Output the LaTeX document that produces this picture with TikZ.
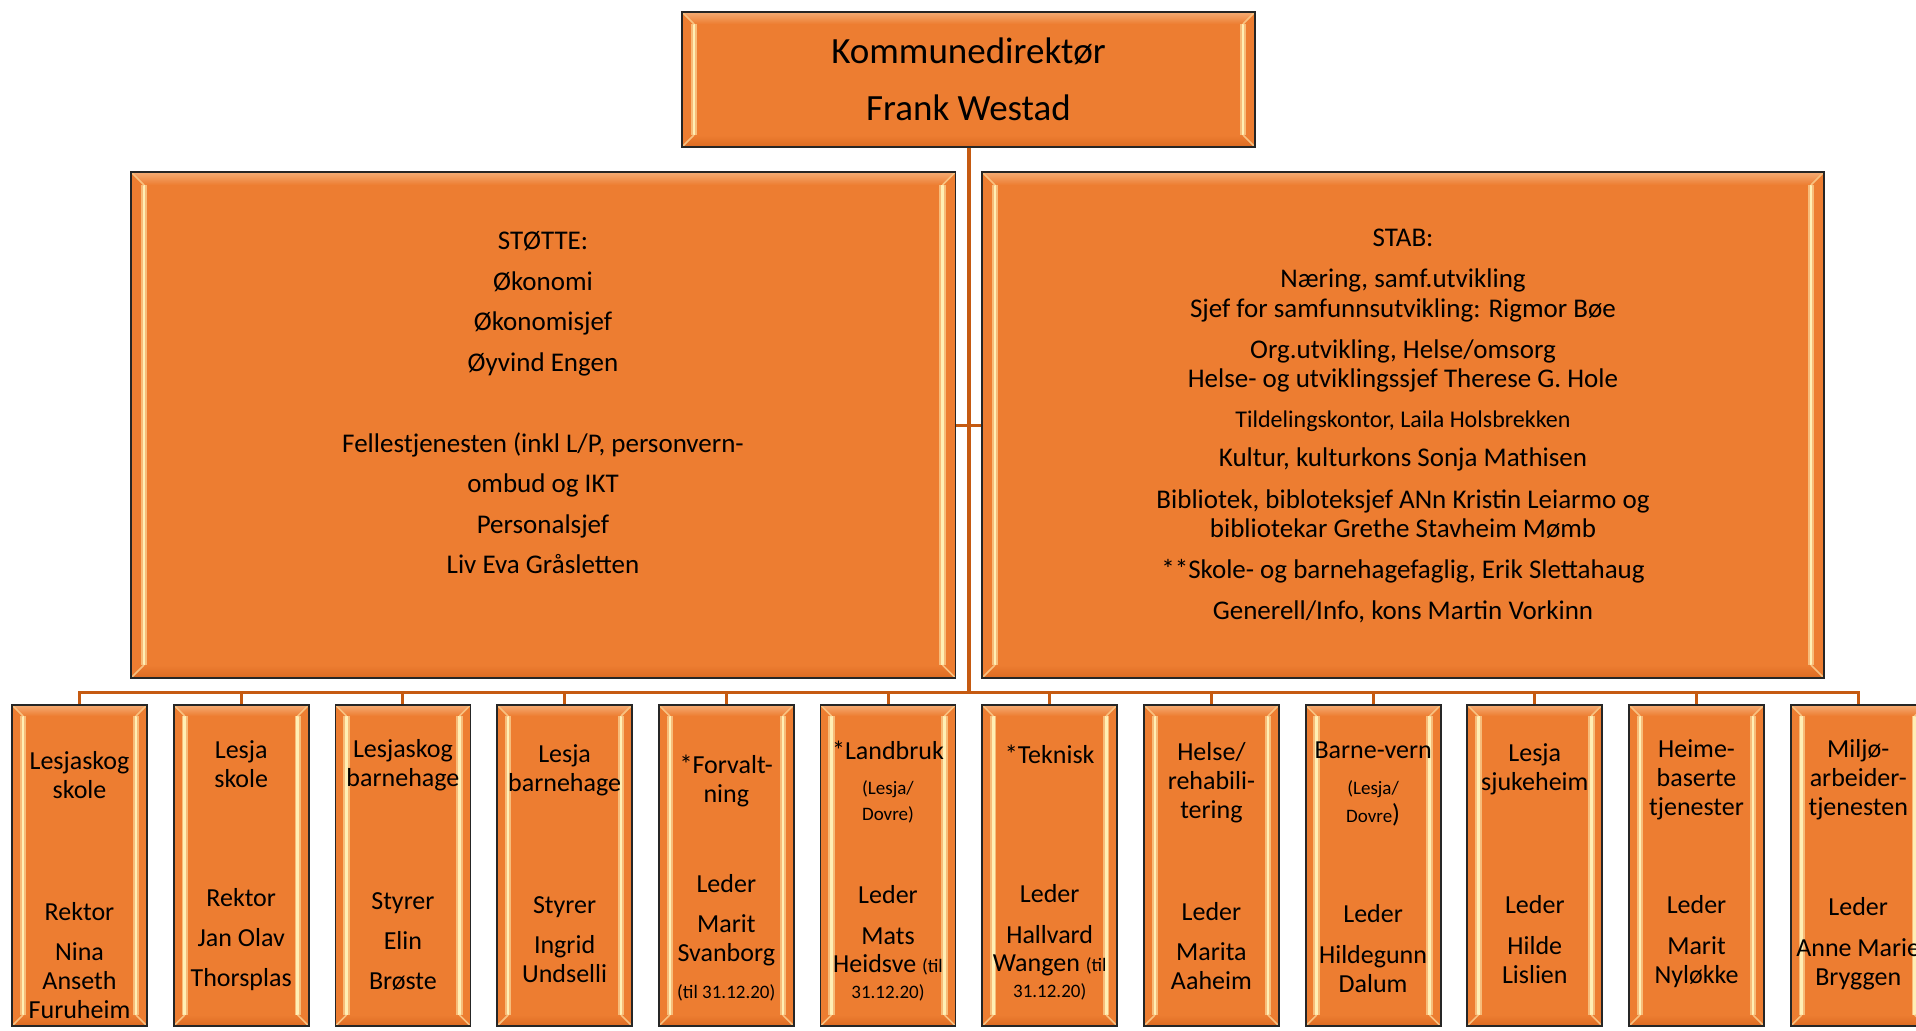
\documentclass[tikz,border=0pt]{standalone}
\usepackage{fontspec}
\setmainfont{Carlito}

\definecolor{boxorange}{HTML}{ED7D31}
\definecolor{linkorange}{HTML}{C55A11}
\definecolor{bevelhi}{HTML}{FFEFB5}
\definecolor{beveltop}{HTML}{F5AC74}
\definecolor{bevelbot}{HTML}{DC6B22}

\newcommand{\sm}[1]{{\fontsize{9.5}{11}\selectfont #1}}

\begin{document}
\begin{tikzpicture}[x=0.5pt, y=-0.5pt]
        \tikzset{
            bevel/.style={path picture={
                \coordinate (pnw) at (path picture bounding box.north west);
                \coordinate (pne) at (path picture bounding box.north east);
                \coordinate (psw) at (path picture bounding box.south west);
                \coordinate (pse) at (path picture bounding box.south east);
                \shade[top color=beveltop, bottom color=boxorange] (pnw) -- (pne)
                    -- ([xshift=-#1,yshift=-#1]pne) -- ([xshift=#1,yshift=-#1]pnw) -- cycle;
                \shade[top color=boxorange, bottom color=bevelbot] (psw) -- (pse)
                    -- ([xshift=-#1,yshift=#1]pse) -- ([xshift=#1,yshift=#1]psw) -- cycle;
                \draw[bevelhi!55!boxorange, line width=3.2pt]
                    ([xshift=#1,yshift=-#1]pnw) -- ([xshift=#1,yshift=#1]psw)
                    ([xshift=-#1,yshift=-#1]pne) -- ([xshift=-#1,yshift=#1]pse);
                \draw[bevelhi, line width=1.3pt]
                    ([xshift=#1,yshift=-#1]pnw) -- ([xshift=#1,yshift=#1]psw)
                    ([xshift=-#1,yshift=-#1]pne) -- ([xshift=-#1,yshift=#1]pse);
                \draw[bevelhi!60!boxorange, line width=0.8pt]
                    (pnw) -- ([xshift=#1,yshift=-#1]pnw)
                    (pne) -- ([xshift=-#1,yshift=-#1]pne)
                    (psw) -- ([xshift=#1,yshift=#1]psw)
                    (pse) -- ([xshift=-#1,yshift=#1]pse);
            }},
            box/.style={draw=black!85, line width=0.9pt, fill=boxorange, bevel=6pt, inner sep=0pt},
            unit/.style={box, bevel=5.5pt, minimum width=67.5pt, minimum height=160.5pt},
            head/.style={align=center, inner sep=0pt, font=\fontsize{13}{14.5}\selectfont},
            link/.style={draw=linkorange, line width=1.5pt},
            trunk/.style={link, line width=2pt}
        }

        \useasboundingbox (0,0) rectangle (1916,1030);
        \clip (0,0) rectangle (1916,1030);

        % Top - Kommunedirektor
        \node[box, minimum width=286.5pt, minimum height=67.5pt, align=center,
              font=\fontsize{18.5}{28.5}\selectfont] (dir) at (968.5,79.5)
              {Kommunedirektør\\Frank Westad};

        % Support and staff
        \node[box, bevel=6.5pt, minimum width=412.25pt, minimum height=253pt] (stotte) at (543.25,425) {};
        \node[align=center, inner sep=0pt, font=\fontsize{13.5}{20.25}\selectfont] (stotte-txt) at (543,403)
            {STØTTE:\\Økonomi\\Økonomisjef\\Øyvind Engen\\[20.25pt]
             Fellestjenesten (inkl L/P, personvern-\\ombud og IKT\\Personalsjef\\Liv Eva Gråsletten};

        \node[box, bevel=6.5pt, minimum width=421pt, minimum height=253pt] (stab) at (1403,425) {};
        \node[align=center, inner sep=0pt, font=\fontsize{13.5}{14.8}\selectfont] (stab-txt) at (1403,426)
            {STAB:\\[5.75pt]
             Næring, samf.utvikling\\Sjef for samfunnsutvikling: Rigmor Bøe\\[5.75pt]
             Org.utvikling, Helse/omsorg\\Helse- og utviklingssjef Therese G. Hole\\[5pt]
             {\fontsize{12}{13}\selectfont Tildelingskontor, Laila Holsbrekken}\\[5pt]
             Kultur, kulturkons Sonja Mathisen\\[5.75pt]
             Bibliotek, bibloteksjef ANn Kristin Leiarmo og\\bibliotekar Grethe Stavheim Mømb\\[5.75pt]
             **Skole- og barnehagefaglig, Erik Slettahaug\\[5.75pt]
             Generell/Info, kons Martin Vorkinn};

        % Unit 1 - Lesjaskog skole
        \node[unit] (unit1) at (79.5,865.5) {};
        \node[head] (head1) at (79.5,774.7) {Lesjaskog\\skole};
        \node[head] (lead1) at (79.5,961) {Rektor\\[5.5pt]Nina\\Anseth\\Furuheim};

        % Unit 2 - Lesja skole
        \node[unit] (unit2) at (241.2,865.5) {};
        \node[head] (head2) at (241.2,763.7) {Lesja\\skole};
        \node[head] (lead2) at (241.2,940) {Rektor\\[5.5pt]Jan Olav\\[5.5pt]Thorsplas};

        % Unit 3 - Lesjaskog barnehage
        \node[unit] (unit3) at (402.9,865.5) {};
        \node[head] (head3) at (402.9,765) {Lesjaskog\\barnehage};
        \node[head] (lead3) at (402.9,942) {Styrer\\[5.5pt]Elin\\[5.5pt]Brøste};

        % Unit 4 - Lesja barnehage
        \node[unit] (unit4) at (564.6,865.5) {};
        \node[head] (head4) at (564.6,770) {Lesja\\barnehage};
        \node[head] (lead4) at (564.6,940) {Styrer\\[5.5pt]Ingrid\\Undselli};

        % Unit 5 - Forvaltning
        \node[unit] (unit5) at (726.3,865.5) {};
        \node[head] (head5) at (726.3,781) {*Forvalt-\\ning};
        \node[head] (lead5) at (726.3,938) {Leder\\[5.5pt]Marit\\Svanborg\\[3.8pt]\sm{(til 31.12.20)}};

        % Unit 6 - Landbruk
        \node[unit] (unit6) at (888,865.5) {};
        \node[head] (head6) at (888,782) {*Landbruk\\[3.2pt]\sm{(Lesja/}\\[-1.7pt]\sm{Dovre)}};
        \node[head] (lead6) at (888,943) {Leder\\[6pt]Mats\\[-0.5pt]Heidsve \sm{(til}\\[-1.7pt]\sm{31.12.20)}};

        % Unit 7 - Teknisk
        \node[unit] (unit7) at (1049.7,865.5) {};
        \node[head] (head7) at (1049.7,754) {*Teknisk};
        \node[head] (lead7) at (1049.7,942) {Leder\\[6pt]Hallvard\\[-0.5pt]Wangen \sm{(til}\\[-1.7pt]\sm{31.12.20)}};

        % Unit 8 - Helse/rehabilitering
        \node[unit] (unit8) at (1211.4,865.5) {};
        \node[head] (head8) at (1211.4,783) {Helse/\\rehabili-\\tering};
        \node[head] (lead8) at (1211.4,946) {Leder\\[5.5pt]Marita\\Aaheim};

        % Unit 9 - Barnevern
        \node[unit] (unit9) at (1373.1,865.5) {};
        \node[head] (head9) at (1373.1,784) {Barne-vern\\[3.8pt]\sm{(Lesja/}\\[-0.5pt]\sm{Dovre})};
        \node[head] (lead9) at (1373.1,949) {Leder\\[6pt]Hildegunn\\Dalum};

        % Unit 10 - Lesja sjukeheim
        \node[unit] (unit10) at (1534.8,865.5) {};
        \node[head] (head10) at (1534.8,769) {Lesja\\sjukeheim};
        \node[head] (lead10) at (1534.8,940) {Leder\\[6pt]Hilde\\Lislien};

        % Unit 11 - Heimebaserte tjenester
        \node[unit] (unit11) at (1696.5,865.5) {};
        \node[head] (head11) at (1696.5,780) {Heime-\\baserte\\tjenester};
        \node[head] (lead11) at (1696.5,942) {Leder\\[6pt]Marit\\Nyløkke};

        % Unit 12 - Miljoarbeidertjenesten
        \node[unit] (unit12) at (1858.2,865.5) {};
        \node[head] (head12) at (1858.2,780) {Miljø-\\arbeider-\\tjenesten};
        \node[head] (lead12) at (1858.2,944) {Leder\\[6pt]Anne Marie\\Bryggen};

        % Connectors
        \coordinate (bus) at (968.5,692);
        \draw[trunk] (dir.south) -- (bus);
        \draw[link] (stotte.east) -- (stab.west);
        \draw[link] (bus) -| (unit1.north);
        \draw[link] (bus) -| (unit2.north);
        \draw[link] (bus) -| (unit3.north);
        \draw[link] (bus) -| (unit4.north);
        \draw[link] (bus) -| (unit5.north);
        \draw[link] (bus) -| (unit6.north);
        \draw[link] (bus) -| (unit7.north);
        \draw[link] (bus) -| (unit8.north);
        \draw[link] (bus) -| (unit9.north);
        \draw[link] (bus) -| (unit10.north);
        \draw[link] (bus) -| (unit11.north);
        \draw[link] (bus) -| (unit12.north);
\end{tikzpicture}
\end{document}
